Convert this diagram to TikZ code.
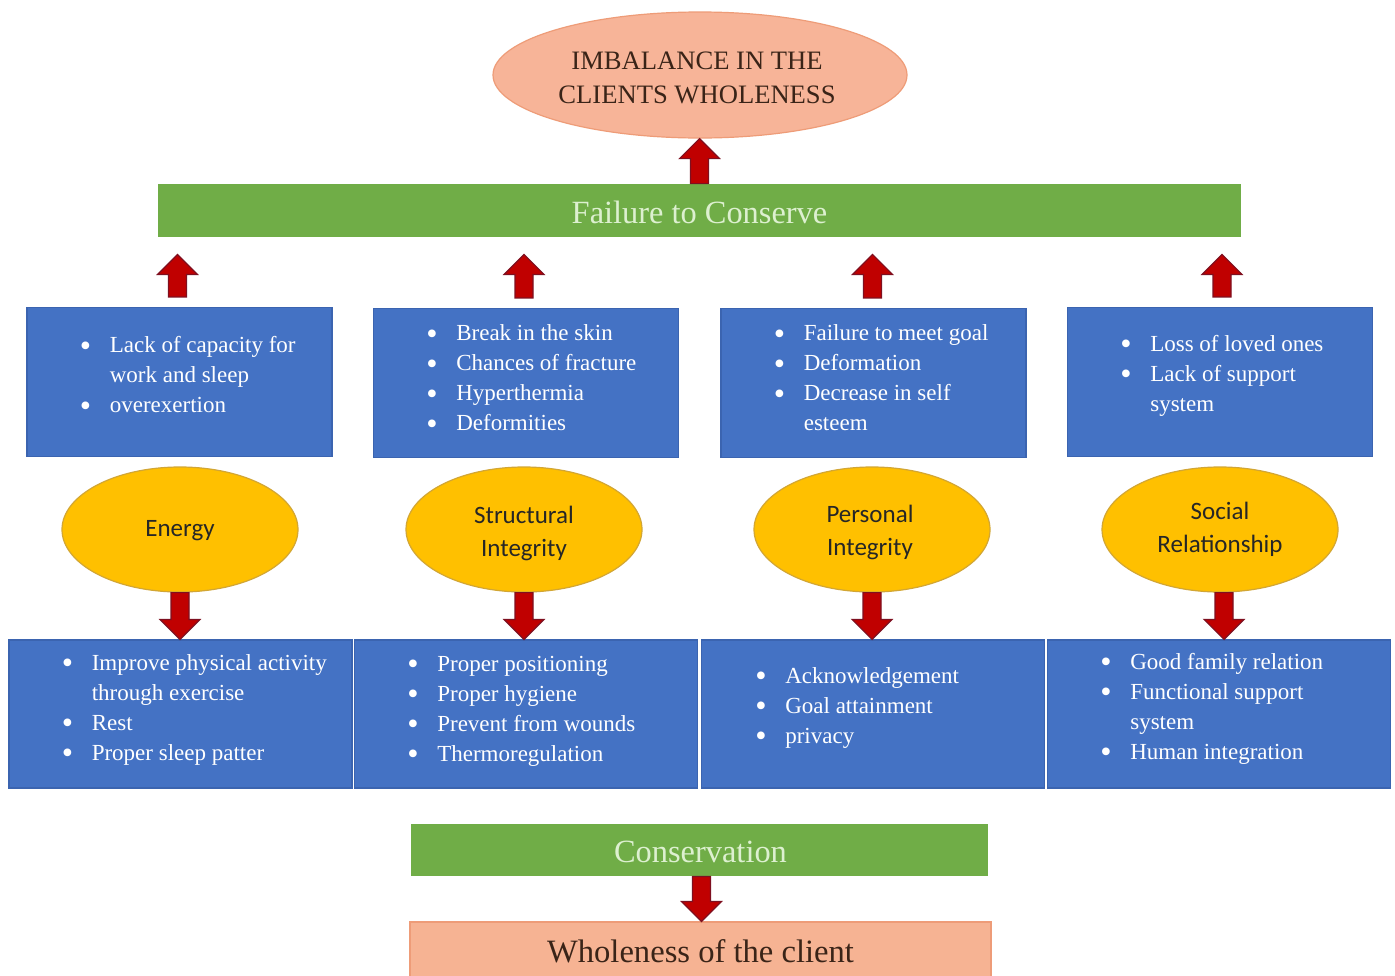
\documentclass[tikz,border=0pt]{standalone}
\usepackage{fontspec}
\usepackage{graphicx}
\setmainfont{Liberation Serif}
\newfontfamily\calib{Carlito}
\usetikzlibrary{shapes.geometric,calc}
\definecolor{boxblue}{HTML}{4472C4}
\definecolor{boxblueline}{HTML}{3B64B0}
\definecolor{bargreen}{HTML}{70AD47}
\definecolor{bartext}{HTML}{DDF0D0}
\definecolor{ellyellow}{HTML}{FFC000}
\definecolor{ellline}{HTML}{D2A634}
\definecolor{peach}{HTML}{F7B498}
\definecolor{peachline}{HTML}{EE9C78}
\definecolor{wholefill}{HTML}{F6B393}
\definecolor{arrred}{HTML}{C00000}
\definecolor{arrline}{HTML}{7E1020}
\definecolor{toptext}{HTML}{3A2418}
\newcommand\itm{\makebox[15pt][l]{\smash{\raisebox{-1.6pt}{\scalebox{1.4}{\textbullet}}}}}
\newcommand\ind{\hspace*{15pt}}
\newcommand\blockarr[2]{%
  \path[draw=arrline, fill=arrred, line width=0.6pt, line join=miter]
    let \p1=(#1), \p2=(#2), \n1={sign(\y2-\y1)} in
    ({\x1-4.5pt},{\y1}) -- ({\x1-4.5pt},{\y2-\n1*10pt}) -- ({\x1-10pt},{\y2-\n1*10pt})
    -- ({\x1},{\y2}) -- ({\x1+10pt},{\y2-\n1*10pt}) -- ({\x1+4.5pt},{\y2-\n1*10pt})
    -- ({\x1+4.5pt},{\y1}) -- cycle;}
\tikzset{
  topbox/.style={rectangle, draw=boxblueline, fill=boxblue, line width=0.6pt,
    minimum width=152.5pt, minimum height=74.5pt, inner sep=0pt},
  botbox/.style={topbox, minimum width=171.5pt, minimum height=74pt},
  lst/.style={anchor=west, align=left, text=white, inner sep=0pt,
    font=\fontsize{11.5}{15}\selectfont},
  yell/.style={ellipse, draw=ellline, fill=ellyellow, line width=0.6pt,
    minimum width=118pt, minimum height=62.5pt, inner sep=0pt},
  yelltext/.style={align=center, inner sep=0pt, text=black!85,
    font=\calib\fontsize{12.5}{16.5}\selectfont},
  bar/.style={rectangle, fill=bargreen, inner sep=0pt},
  bartxt/.style={inner sep=0pt, text=bartext, font=\fontsize{16.2}{20}\selectfont}
}
\begin{document}
\begin{tikzpicture}[x=0.5pt, y=-0.5pt]
\useasboundingbox[fill=white] (0,0) rectangle (1395,975);
% top ellipse
\node[ellipse, draw=peachline, fill=peach, line width=0.6pt, minimum width=207pt,
  minimum height=63pt, inner sep=0pt] (top) at (700,75) {};
\node[align=center, inner sep=0pt, text=toptext, font=\fontsize{13.3}{17}\selectfont]
  (toplbl) at ($(top)+(-3,3)$) {IMBALANCE IN THE\\CLIENTS WHOLENESS};
% failure bar
\node[bar, minimum width=541.5pt, minimum height=26.5pt] (fail) at (699.5,210.5) {};
\node[bartxt] (faillbl) at ($(fail)+(0,2)$) {Failure to Conserve};
% top boxes
\node[topbox] (t1) at (179.5,382) {};
\node[topbox] (t2) at (526,383) {};
\node[topbox] (t3) at (873.5,383) {};
\node[topbox] (t4) at (1220,382) {};
\node[lst] (l1) at ($(t1.west)+(53,-7)$) {\itm Lack of capacity for\\\ind work and sleep\\\itm overexertion};
\node[lst] (l2) at ($(t2.west)+(53,-5)$) {\itm Break in the skin\\\itm Chances of fracture\\\itm Hyperthermia\\\itm Deformities};
\node[lst] (l3) at ($(t3.west)+(53,-5)$) {\itm Failure to meet goal\\\itm Deformation\\\itm Decrease in self\\\ind esteem};
\node[lst] (l4) at ($(t4.west)+(53,-6)$) {\itm Loss of loved ones\\\itm Lack of support\\\ind system};
% ellipses
\node[yell] (e1) at (180,529.5) {};
\node[yell] (e2) at (524,529.5) {};
\node[yell] (e3) at (872,529.5) {};
\node[yell] (e4) at (1220,529.5) {};
\node[yelltext] (y1) at ($(e1)+(0,1)$) {Energy};
\node[yelltext] (y2) at ($(e2)+(0,4)$) {Structural\\Integrity};
\node[yelltext] (y3) at ($(e3)+(-2,3)$) {Personal\\Integrity};
\node[yelltext] (y4) at ($(e4)+(0,0)$) {Social\\Relationship};
% bottom boxes
\node[botbox] (b1) at (180.5,714) {};
\node[botbox] (b2) at (526,714) {};
\node[botbox] (b3) at (873,714) {};
\node[botbox] (b4) at (1219,714) {};
\node[lst] (m1) at ($(b1.west)+(53,-4)$) {\itm Improve physical activity\\\ind through exercise\\\itm Rest\\\itm Proper sleep patter};
\node[lst] (m2) at ($(b2.west)+(53,-3)$) {\itm Proper positioning\\\itm Proper hygiene\\\itm Prevent from wounds\\\itm Thermoregulation};
\node[lst] (m3) at ($(b3.west)+(54,-6)$) {\itm Acknowledgement\\\itm Goal attainment\\\itm privacy};
\node[lst] (m4) at ($(b4.west)+(53,-5)$) {\itm Good family relation\\\itm Functional support\\\ind system\\\itm Human integration};
% conservation and wholeness
\node[bar, minimum width=288.5pt, minimum height=26pt] (cons) at (699.5,850) {};
\node[bartxt] (conslbl) at ($(cons)+(1,2)$) {Conservation};
\node[rectangle, draw=peachline, fill=wholefill, line width=0.6pt, minimum width=290.5pt,
  minimum height=29pt, inner sep=0pt, text=toptext, font=\fontsize{16.3}{20}\selectfont]
  (whole) at (700.5,951) {Wholeness of the client};
% arrows
\blockarr{fail.north}{top.south}
\blockarr{$(t1.north)+(-2,-10)$}{$(fail.south)!(t1.north)!(fail.south east)+(-2,17)$}
\blockarr{$(t2.north)+(-2,-10)$}{$(fail.south)!(t2.north)!(fail.south east)+(-2,17)$}
\blockarr{$(t3.north)+(-1,-10)$}{$(fail.south)!(t3.north)!(fail.south east)+(-1,17)$}
\blockarr{$(t4.north)+(2,-10)$}{$(fail.south)!(t4.north)!(fail.south east)+(2,17)$}
\blockarr{e1.south}{b1.north}
\blockarr{e2.south}{b2.north}
\blockarr{e3.south}{b3.north}
\blockarr{$(e4.south)+(4,0)$}{$(b4.north)+(5,0)$}
\blockarr{$(cons.south)+(2,0)$}{$(whole.north)+(1,0)$}
\end{tikzpicture}
\end{document}
